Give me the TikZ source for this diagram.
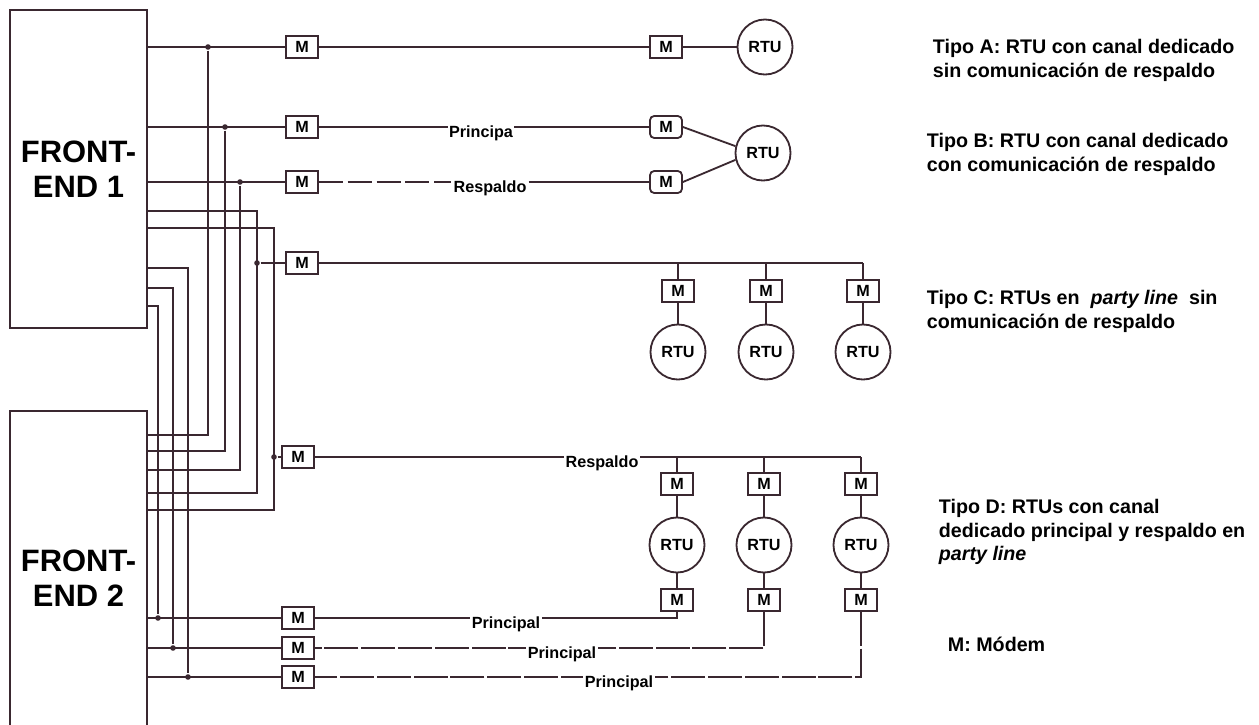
\documentclass[tikz,border=0pt]{standalone}
\usepackage{fontspec}
\setmainfont{Liberation Sans}
\usetikzlibrary{positioning,calc}
\definecolor{trazo}{RGB}{58,40,48}

\begin{document}
\begin{tikzpicture}[
  x=0.025cm,y=-0.025cm,
  line width=1.3pt,
  fe/.style={draw=trazo,line width=1.4pt,minimum width=3.425cm,align=center,font=\fontsize{22}{25}\selectfont\bfseries},
  modem/.style={draw=trazo,minimum width=0.8cm,minimum height=0.55cm,inner sep=0pt,font=\fontsize{11.5}{11.5}\selectfont\bfseries},
  rtu/.style={circle,draw=trazo,minimum size=1.375cm,inner sep=0pt,font=\fontsize{11.5}{11.5}\selectfont\bfseries},
  punto/.style={circle,fill=trazo,minimum size=0.14cm,inner sep=0pt},
  etq/.style={fill=white,inner sep=1pt,anchor=base,font=\fontsize{11.5}{11.5}\selectfont\bfseries},
  tipo/.style={anchor=north west,align=left,inner sep=0pt,font=\fontsize{14}{17}\selectfont\bfseries},
  linea/.style={draw=trazo},
  tramo/.style={draw=trazo,dash pattern=on 0.85cm off 0.07cm},
  corto/.style={draw=trazo,dash pattern=on 0.6cm off 0.12cm},
]
\useasboundingbox (0,0) rectangle (1259,725);

% ---- Front-ends ----
\node[fe,minimum height=7.95cm] (FE1) at (78.5,169) {FRONT-\\END 1};
\node[fe,minimum height=8.35cm] (FE2) at (78.5,578) {FRONT-\\END 2};

% ---- Tipo A ----
\node[modem] (MA1) at (302,47) {M};
\node[modem] (MA2) at (666,47) {M};
\node[rtu] (RA) at (765,47) {RTU};
\node[punto] (jA) at (208,47) {};
\coordinate (cA) at (208,435);
\draw[linea] (FE1.east |- MA1) -- (MA1) -- (MA2) -- (RA);
\draw[linea] (jA) -- (cA) -- (FE2.east |- cA);

% ---- Tipo B ----
\node[modem] (MB1) at (302,127) {M};
\node[modem] (MB2) at (302,182) {M};
\node[modem,rounded corners=3pt] (MB1r) at (666,127) {M};
\node[modem,rounded corners=3pt] (MB2r) at (666,182) {M};
\node[rtu] (RB) at (763,153) {RTU};
\node[punto] (jB1) at (225,127) {};
\node[punto] (jB2) at (240,182) {};
\coordinate (cB1) at (225,451);
\coordinate (cB2) at (240,470);
\draw[linea] (FE1.east |- MB1) -- (MB1) -- (MB1r);
\draw[linea] (MB1r.east) -- (RB.166);
\draw[linea] (MB2r.east) -- (RB.194);
\node[etq] (eB1) at (481,137) {Principa};
\node[etq] (eB2) at (490,192) {Respaldo};
\draw[linea] (FE1.east |- MB2) -- (MB2);
\draw[corto] (MB2) -- (MB2 -| eB2.west);
\draw[linea] (MB2 -| eB2.east) -- (MB2r);
\draw[linea] (jB1) -- (cB1) -- (FE2.east |- cB1);
\draw[linea] (jB2) -- (cB2) -- (FE2.east |- cB2);

% ---- Tipo C: party line ----
\node[modem] (MC0) at (302,263) {M};
\node[punto] (jC) at (257,263) {};
\coordinate (kC1) at (257,211);
\coordinate (kC2) at (257,493);
\coordinate (bC) at (863,263);
\draw[linea] (FE1.east |- kC1) -- (kC1) -- (kC2) -- (FE2.east |- kC2);
\draw[linea] (jC) -- (MC0) -- (bC);
\foreach \i/\x in {1/678,2/766,3/863}{
  \node[modem] (MC\i) at (\x,291) {M};
  \node[rtu] (RC\i) at (\x,352) {RTU};
  \draw[linea] (MC\i |- bC) -- (MC\i) -- (RC\i);
}

% ---- Tipo D: respaldo en party line ----
\node[modem] (MD0) at (298,457) {M};
\node[punto] (jD) at (274,457) {};
\coordinate (kD1) at (274,228);
\coordinate (kD2) at (274,510);
\coordinate (bD) at (861,457);
\draw[linea] (FE1.east |- kD1) -- (kD1) -- (kD2) -- (FE2.east |- kD2);
\draw[linea] (jD) -- (MD0) -- (bD);
\foreach \i/\x in {1/677,2/764,3/861}{
  \node[modem] (MDa\i) at (\x,484) {M};
  \node[rtu] (RD\i) at (\x,545) {RTU};
  \node[modem] (MDb\i) at (\x,600) {M};
  \draw[linea] (MDa\i |- bD) -- (MDa\i) -- (RD\i) -- (MDb\i);
}
\node[etq] (eD0) at (602,467) {Respaldo};

% canales principales desde FRONT-END 2
\foreach \i/\x/\ya/\yb in {1/158/306/618,2/173/288/648,3/188/268/677}{
  \node[modem] (MP\i) at (298,\yb) {M};
  \node[punto] (jP\i) at (\x,\yb) {};
  \coordinate (kP\i) at (\x,\ya);
  \draw[linea] (FE1.east |- kP\i) -- (kP\i) -- (jP\i);
  \draw[linea] (FE2.east |- jP\i) -- (MP\i);
}
\draw[linea] (MDb1) |- (MP1);
\draw[tramo] (MDb2) |- (MP2);
\draw[tramo] (MDb3) |- (MP3);
\node[etq] (eD1) at (506,628) {Principal};
\node[etq] (eD2) at (562,658) {Principal};
\node[etq] (eD3) at (619,687) {Principal};

% ---- Leyenda ----
\node[tipo] (tA) at (932,38) {Tipo A: RTU con canal dedicado\\sin comunicación de respaldo};
\node[tipo] (tB) at (926,132) {Tipo B: RTU con canal dedicado\\con comunicación de respaldo};
\node[tipo] (tC) at (926,289) {Tipo C: RTUs en~~\textit{party line}~~sin\\comunicación de respaldo};
\node[tipo] (tD) at (938,498) {Tipo D: RTUs con canal\\dedicado principal y respaldo en\\\textit{party line}};
\node[tipo,anchor=base west] (tM) at (947,651) {M: Módem};
\end{tikzpicture}
\end{document}
